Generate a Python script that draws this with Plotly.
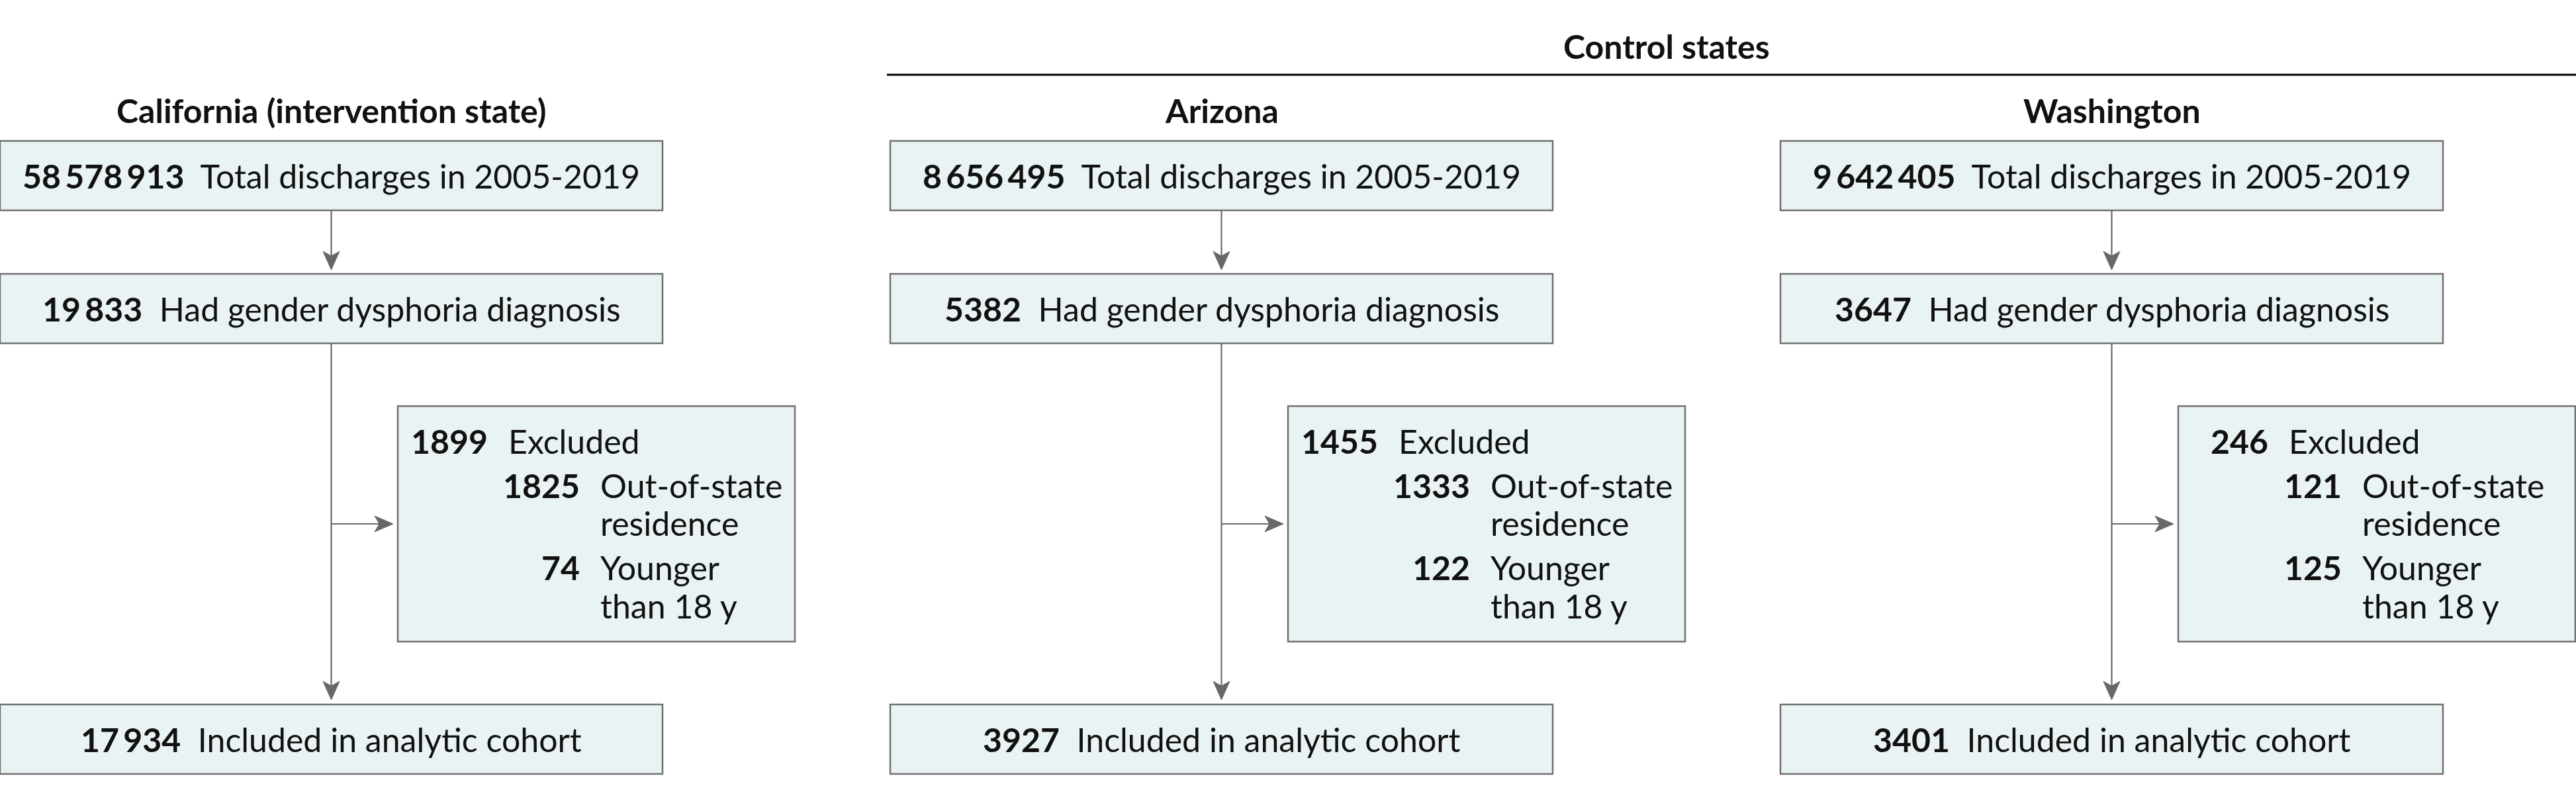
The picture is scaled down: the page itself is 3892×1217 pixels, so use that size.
import plotly.graph_objects as go

# ---------------- data ----------------
states = ["California (intervention state)", "Arizona", "Washington"]
group_title = "Control states"
total_discharges = [58578913, 8656495, 9642405]
gender_dysphoria = [19833, 5382, 3647]
excluded = [1899, 1455, 246]
out_of_state = [1825, 1333, 121]
younger_18 = [74, 122, 125]
included = [17934, 3927, 3401]

label_total = "Total discharges in 2005-2019"
label_gd = "Had gender dysphoria diagnosis"
label_excl = "Excluded"
label_oos = ["Out-of-state", "residence"]
label_young = ["Younger", "than 18 y"]
label_incl = "Included in analytic cohort"

# ---------------- layout constants ----------------
W, H = 3892, 1217
FONT = "Lato, 'Open Sans', 'Liberation Sans', sans-serif"
FS = 50
TXT = "#111111"
FILL = "#E9F3F4"
EDGE = "#707070"
ARROW = "#686868"

col_left = [0, 1345, 2690]
BOX_W = 1001
box_rows = [(213, 318), (414, 519), (1065, 1170)]
EX_OFF, EX_W, EX_TOP, EX_BOT = 601, 600, 614, 970
BRANCH_Y = 792
DW, GAP, LBL_W = 28, 27, 271  # estimated text metrics for exclusion block
LINE_STEP = 67


def fmt(n):
    return f"{n:,}".replace(",", "\u2009") if n >= 10000 else str(n)


fig = go.Figure()
shapes, annos = [], []


def rect(x0, y0, x1, y1):
    shapes.append(dict(type="rect", xref="x", yref="y", x0=x0, y0=y0, x1=x1, y1=y1,
                       fillcolor=FILL, line=dict(color=EDGE, width=2.5), layer="below"))


def line(x0, y0, x1, y1, color=ARROW, width=2.2):
    shapes.append(dict(type="line", xref="x", yref="y", x0=x0, y0=y0, x1=x1, y1=y1,
                       line=dict(color=color, width=width)))


def head_down(x, yt):
    p = f"M {x},{yt} L {x-12.5},{yt-28} L {x},{yt-21} L {x+12.5},{yt-28} Z"
    shapes.append(dict(type="path", xref="x", yref="y", path=p, fillcolor=ARROW,
                       line=dict(color=ARROW, width=1)))


def head_right(xt, y):
    p = f"M {xt},{y} L {xt-28},{y-12} L {xt-21},{y} L {xt-28},{y+12} Z"
    shapes.append(dict(type="path", xref="x", yref="y", path=p, fillcolor=ARROW,
                       line=dict(color=ARROW, width=1)))


def text(x, y, s, anchor="center", bold=False):
    if bold:
        s = f"<b>{s}</b>"
    annos.append(dict(x=x, y=y, xref="x", yref="y", text=s, showarrow=False,
                      xanchor=anchor, yanchor="middle",
                      font=dict(family=FONT, size=FS, color=TXT)))


SP = "\u00a0\u00a0"

# group header
az_c = col_left[1] + BOX_W / 2
wa_c = col_left[2] + BOX_W / 2
text((az_c + wa_c) / 2, 70, group_title, bold=True)
line(col_left[1] - 5, 113, W, 113, color="#000000", width=3)

for i, st in enumerate(states):
    L = col_left[i]
    cx = L + BOX_W / 2
    text(cx, 167, st, bold=True)
    rows = [
        (total_discharges[i], label_total),
        (gender_dysphoria[i], label_gd),
        (included[i], label_incl),
    ]
    for (y0, y1), (n, lab) in zip(box_rows, rows):
        rect(L, y0, L + BOX_W, y1)
        text(cx, (y0 + y1) / 2, f"<b>{fmt(n)}</b>{SP}{lab}")

    # connectors
    line(cx, box_rows[0][1], cx, box_rows[1][0] - 20)
    head_down(cx, box_rows[1][0] - 6)
    line(cx, box_rows[1][1], cx, box_rows[2][0] - 20)
    head_down(cx, box_rows[2][0] - 7)

    # exclusion box
    ex0 = L + EX_OFF
    rect(ex0, EX_TOP, ex0 + EX_W, EX_BOT)
    line(cx, BRANCH_Y, ex0 - 20, BRANCH_Y)
    head_right(ex0 - 7, BRANCH_Y)

    nd_main = len(str(excluded[i]))
    nd_sub = max(len(str(out_of_state[i])), len(str(younger_18[i])))
    total_w = nd_main * DW + GAP + nd_sub * DW + GAP + LBL_W
    start = ex0 + EX_W / 2 - total_w / 2
    main_r = start + nd_main * DW
    excl_l = main_r + GAP
    sub_r = excl_l + nd_sub * DW
    sub_l = sub_r + GAP

    y = 667
    text(main_r, y, fmt(excluded[i]), anchor="right", bold=True)
    text(excl_l, y, label_excl, anchor="left")
    y += LINE_STEP
    text(sub_r, y, fmt(out_of_state[i]), anchor="right", bold=True)
    for k, s in enumerate(label_oos):
        text(sub_l, y + k * (LINE_STEP - 10), s, anchor="left")
    y += 2 * LINE_STEP - 10
    text(sub_r, y, fmt(younger_18[i]), anchor="right", bold=True)
    for k, s in enumerate(label_young):
        text(sub_l, y + k * (LINE_STEP - 9), s, anchor="left")

fig.update_layout(
    width=W, height=H, autosize=False,
    margin=dict(l=0, r=0, t=0, b=0, pad=0),
    paper_bgcolor="white", plot_bgcolor="white",
    xaxis=dict(range=[0, W], visible=False, fixedrange=True),
    yaxis=dict(range=[H, 0], visible=False, fixedrange=True),
    shapes=shapes, annotations=annos, showlegend=False,
)
fig.write_html("out.html", config={"displayModeBar": False},
               post_script="document.body.style.margin='0';document.body.style.overflow='hidden';")
